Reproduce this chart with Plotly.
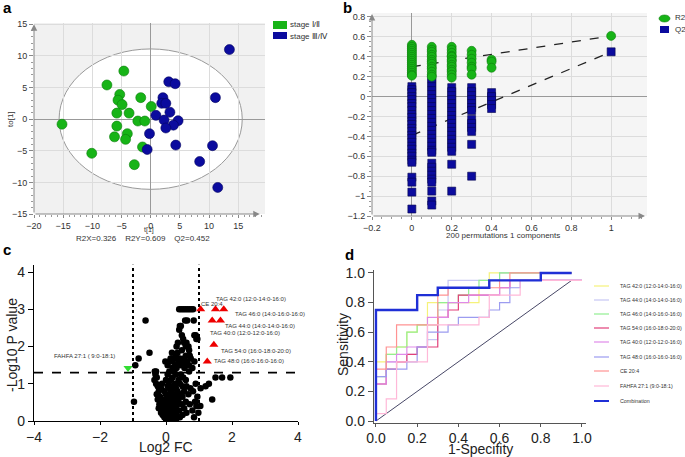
import plotly.graph_objects as go

W, H = 685, 457
FONT = "Arial, Liberation Sans, sans-serif"

# ---------- panel a : OPLS-DA score plot ----------
a_early_t1 = [-15.2, -4.6, -7.5, -5.3, -5.6, -4.9, -1.7, 0.1, -5.8, -3.7, -2.2, -1.0,
              -5.8, -4.0, -6.2, -4.3, -1.4, -10.1, -2.8]
a_early_to = [-0.8, 7.6, 5.4, 3.9, 3.0, 2.3, 3.4, 2.0, 0.95, 0.95, -0.3, -0.3,
              -1.1, -2.3, -2.8, -3.2, -4.4, -5.4, -7.2]
a_late_t1 = [13.5, 3.1, 4.2, 2.1, 11.1, 1.9, 2.6, 3.3, 0.9, 2.3, 4.7, 3.9, 2.6, -0.2,
             4.3, 10.6, -0.6, 8.4, 11.5]
a_late_to = [11.0, 5.9, 5.6, 3.4, 3.4, 2.5, 2.5, 1.1, 0.6, -0.15, -0.25, -0.95, -1.4,
             -2.3, -4.1, -4.2, -4.8, -6.7, -10.8]
a_ellipse = (15.7, 11.1)   # Hotelling T2 radii (t1, to)

# ---------- panel b : permutation test ----------
b_r2_x = [0] * 17 + [0.1] * 13 + [0.2] * 13 + [0.3] * 7 + [0.4] * 3 + [1]
b_r2_y = [0.52, 0.5, 0.48, 0.46, 0.44, 0.42, 0.4, 0.38, 0.36, 0.34, 0.32, 0.3, 0.28, 0.26, 0.24, 0.22, 0.21,
          0.5, 0.47, 0.45, 0.42, 0.4, 0.37, 0.35, 0.33, 0.3, 0.28, 0.25, 0.22, 0.2,
          0.5, 0.47, 0.44, 0.41, 0.4, 0.37, 0.35, 0.32, 0.3, 0.27, 0.25, 0.22, 0.19,
          0.46, 0.42, 0.38, 0.34, 0.3, 0.28, 0.22,
          0.37, 0.35, 0.29,
          0.61]
b_q2_x = [0] * 27 + [0.1] * 29 + [0.2] * 19 + [0.3] * 13 + [0.4] * 5 + [1]
b_q2_y = [0.1, 0.07, 0.04, 0.0, -0.03, -0.07, -0.1, -0.14, -0.18, -0.21, -0.25, -0.28, -0.32, -0.35,
          -0.39, -0.42, -0.46, -0.5, -0.53, -0.57, -0.6, -0.64, -0.66, -0.81, -0.86, -0.96, -1.13,
          0.18, 0.14, 0.1, 0.06, 0.02, -0.02, -0.06, -0.1, -0.14, -0.18, -0.22, -0.26, -0.3, -0.34,
          -0.38, -0.42, -0.46, -0.5, -0.54, -0.56, -0.67, -0.71, -0.75, -0.79, -0.83, -0.86, -0.95,
          -1.05, -1.09,
          0.09, 0.05, 0.01, -0.03, -0.07, -0.11, -0.15, -0.19, -0.23, -0.27, -0.31, -0.35, -0.39,
          -0.43, -0.47, -0.51, -0.55, -0.68, -0.95,
          0.09, 0.05, 0.01, -0.03, -0.07, -0.11, -0.14, -0.23, -0.27, -0.31, -0.35, -0.48, -0.8,
          0.04, 0.0, -0.04, -0.08, -0.12,
          0.45]
b_r2_line = ([0, 1], [0.3, 0.61])
b_q2_line = ([0, 1], [-0.39, 0.45])

# ---------- panel c : volcano ----------
c_fc = [0.40, 0.46, 0.52, 0.58, 0.64, 0.70, 0.76, 0.82,
        -0.62, 0.58, 0.64, 0.84, 0.42, 0.45, 0.40, 0.48, 0.86, 0.90, 0.52, 0.92, 0.95,
        0.36, 0.55, 0.62, 0.32, 0.60, 0.68, 0.48, 0.70, -0.50, 0.18, 0.35, 0.30, 0.60, 0.72,
        -0.83, 0.14, 0.25, 0.42, 0.55, 0.75, -0.02, 0.10, 0.20, 0.38, 0.50, 0.64, 0.86,
        -0.93, 0.05, 0.28, 0.45, 0.62, 0.70, 0.20, 0.32, 0.56, 0.80,
        -0.34, -0.30, 0.10, 0.25, 0.70, -0.32, 0.05, 0.30, 0.45,
        -0.28, 0.20, 0.52, 1.50, 1.70, 1.95, -0.35, 0.00, 0.15, 0.38, 0.60,
        -0.30, -0.12, 0.08, 0.28, 0.42, 1.30, 0.90, -0.25, 0.05, 0.20, 0.50, 0.62, 1.20,
        -0.15, 0.10, 0.30, 0.74, 1.05, -0.22, -0.05, 0.15, 0.35, 0.55, 0.82,
        -0.28, 0.00, 0.12, 0.25, 0.42, 0.68, -0.18, 0.05, 0.18, 0.30, 0.50, 0.95,
        -0.25, -0.05, 0.10, 0.22, 0.38, 1.40, -0.97, -0.12, 0.02, 0.15, 0.28, 0.60, 0.88,
        -0.20, -0.08, 0.08, 0.20, 0.35, 0.48, 0.72, -0.15, 0.00, 0.12, 0.25, 1.04, 0.92,
        -0.22, -0.10, 0.05, 0.18, 0.30, 0.55, -0.05, 0.08, 0.22, 0.40, 0.80,
        -0.15, 0.00, 0.12, 0.28, 0.62, 0.98, -0.10, 0.05, 0.18, 0.32, 0.50,
        -0.05, 0.08, 0.20, 0.42, 0.85, 0.00, 0.12, 0.25, 0.05, 0.15, 0.30]
c_logp = [3.0] * 8 + \
         [2.7, 2.7, 2.7, 2.7, 2.55, 2.55, 2.45, 2.3, 2.3, 2.3, 2.2, 2.2, 2.2,
          2.1, 2.1, 2.1, 2.0, 2.0, 2.0, 1.9, 1.9, 1.83, 1.83, 1.83, 1.75, 1.75, 1.75,
          1.68, 1.68, 1.68, 1.68, 1.68, 1.68, 1.6, 1.6, 1.6, 1.6, 1.6, 1.6, 1.6,
          1.5, 1.5, 1.5, 1.5, 1.5, 1.5, 1.42, 1.42, 1.42, 1.42,
          1.33, 1.33, 1.33, 1.33, 1.33, 1.25, 1.25, 1.25, 1.25,
          1.17, 1.17, 1.17, 1.17, 1.17, 1.17, 1.1, 1.1, 1.1, 1.1, 1.1,
          1.0, 1.0, 1.0, 1.0, 1.0, 1.0, 1.0, 0.93, 0.93, 0.93, 0.93, 0.93, 0.93,
          0.88, 0.88, 0.88, 0.88, 0.88, 0.8, 0.8, 0.8, 0.8, 0.8, 0.8,
          0.72, 0.72, 0.72, 0.72, 0.72, 0.72, 0.65, 0.65, 0.65, 0.65, 0.65, 0.65,
          0.58, 0.58, 0.58, 0.58, 0.58, 0.58, 0.52, 0.52, 0.52, 0.52, 0.52, 0.52, 0.52,
          0.45, 0.45, 0.45, 0.45, 0.45, 0.45, 0.45, 0.4, 0.4, 0.4, 0.4, 0.4, 0.4,
          0.34, 0.34, 0.34, 0.34, 0.34, 0.34, 0.28, 0.28, 0.28, 0.28, 0.28,
          0.22, 0.22, 0.22, 0.22, 0.22, 0.22, 0.16, 0.16, 0.16, 0.16, 0.16,
          0.1, 0.1, 0.1, 0.1, 0.1, 0.05, 0.05, 0.05, 0.02, 0.02, 0.02]
c_up_names = ["TAG 42:0 (12:0-14:0-16:0)", "CE 20:4", "TAG 46:0 (14:0-16:0-16:0)",
              "TAG 44:0 (14:0-14:0-16:0)", "TAG 40:0 (12:0-12:0-16:0)",
              "TAG 54:0 (16:0-18:0-20:0)", "TAG 48:0 (16:0-16:0-16:0)"]
c_up_fc = [1.5, 1.05, 1.75, 1.65, 1.4, 1.45, 1.25]
c_up_logp = [3.0, 3.0, 3.0, 2.7, 2.7, 2.05, 1.6]
c_down_names = ["FAHFA 27:1 ( 9:0-18:1)"]
c_down_fc = [-1.15]
c_down_logp = [1.42]
fc_cut = 1.0
p_cut = 1.3

# ---------- panel d : ROC curves ----------
roc_names = ["TAG 42:0 (12:0-14:0-16:0)", "TAG 44:0 (14:0-14:0-16:0)", "TAG 46:0 (14:0-16:0-16:0)",
             "TAG 54:0 (16:0-18:0-20:0)", "TAG 40:0 (12:0-12:0-16:0)", "TAG 48:0 (16:0-16:0-16:0)",
             "CE 20:4", "FAHFA 27:1 (9:0-18:1)", "Combination"]
roc_colors = ["#f6f27a", "#c6c6f4", "#92ee92", "#e2407a", "#df8ae9", "#9c9cf0",
              "#ff9393", "#ffb8d8", "#1f2fd6"]
roc_fpr = [
    [0, 0, 0.05, 0.05, 0.1, 0.1, 0.15, 0.15, 0.2, 0.2, 0.25, 0.25, 0.5, 0.5, 0.55, 0.55, 0.95],
    [0, 0, 0.05, 0.05, 0.15, 0.15, 0.2, 0.2, 0.25, 0.25, 0.3, 0.3, 0.35, 0.35, 0.6, 0.6, 0.95],
    [0, 0, 0.05, 0.05, 0.1, 0.1, 0.15, 0.15, 0.2, 0.2, 0.3, 0.3, 0.4, 0.4, 0.45, 0.45, 0.5, 0.5,
     0.6, 0.6, 0.95],
    [0, 0, 0.05, 0.05, 0.1, 0.1, 0.15, 0.15, 0.2, 0.2, 0.3, 0.3, 0.35, 0.35, 0.4, 0.4, 0.6, 0.6,
     0.65, 0.65, 1.0],
    [0, 0, 0.05, 0.05, 0.1, 0.1, 0.15, 0.15, 0.25, 0.25, 0.35, 0.35, 0.45, 0.45, 0.6, 0.6, 0.65,
     0.65, 1.0],
    [0, 0, 0.05, 0.05, 0.15, 0.15, 0.2, 0.2, 0.25, 0.25, 0.35, 0.35, 0.4, 0.4, 0.55, 0.55, 0.6,
     0.6, 0.65, 0.65, 0.7, 0.7, 1.0],
    [0, 0, 0.05, 0.05, 0.1, 0.1, 0.3, 0.3, 0.35, 0.35, 0.6, 0.6, 0.65, 0.65, 0.95],
    [0, 0, 0.05, 0.05, 0.1, 0.1, 0.25, 0.25, 0.5, 0.5, 0.55, 0.55, 0.7, 0.7, 1.0],
    [0, 0, 0.2, 0.2, 0.3, 0.3, 0.55, 0.55, 0.8, 0.8, 0.95],
]
roc_tpr = [
    [0, 0.4, 0.4, 0.45, 0.45, 0.5, 0.5, 0.6, 0.6, 0.65, 0.65, 0.8, 0.8, 0.9, 0.9, 1.0, 1.0],
    [0, 0.25, 0.25, 0.4, 0.4, 0.45, 0.45, 0.5, 0.5, 0.55, 0.55, 0.75, 0.75, 0.95, 0.95, 1.0, 1.0],
    [0, 0.3, 0.3, 0.45, 0.45, 0.5, 0.5, 0.6, 0.6, 0.65, 0.65, 0.8, 0.8, 0.85, 0.85, 0.9, 0.9, 0.95,
     0.95, 1.0, 1.0],
    [0, 0.25, 0.25, 0.35, 0.35, 0.4, 0.4, 0.45, 0.45, 0.5, 0.5, 0.7, 0.7, 0.75, 0.75, 0.85, 0.85,
     0.9, 0.9, 0.95, 0.95],
    [0, 0.25, 0.25, 0.4, 0.4, 0.45, 0.45, 0.5, 0.5, 0.7, 0.7, 0.8, 0.8, 0.85, 0.85, 0.9, 0.9,
     0.95, 0.95],
    [0, 0.3, 0.3, 0.35, 0.35, 0.4, 0.4, 0.5, 0.5, 0.6, 0.6, 0.65, 0.65, 0.7, 0.7, 0.75, 0.75, 0.8,
     0.8, 0.9, 0.9, 0.95, 0.95],
    [0, 0.35, 0.35, 0.5, 0.5, 0.65, 0.65, 0.85, 0.85, 0.9, 0.9, 0.95, 0.95, 1.0, 1.0],
    [0, 0.05, 0.05, 0.15, 0.15, 0.4, 0.4, 0.65, 0.65, 0.7, 0.7, 0.85, 0.85, 0.95, 0.95],
    [0, 0.75, 0.75, 0.85, 0.85, 0.9, 0.9, 0.95, 0.95, 1.0, 1.0],
]
roc_ref = ([0, 0.95], [0, 0.95])


def px(x):
    return x / W


def py(y):
    return 1 - y / H


GREEN = "#17b417"
BLUE = "#0b0b9e"

fig = go.Figure()

# panel a
fig.add_trace(go.Scatter(x=a_early_t1, y=a_early_to, mode="markers", xaxis="x", yaxis="y",
                         marker=dict(size=10, color=GREEN, line=dict(color="#0c7d0c", width=0.6))))
fig.add_trace(go.Scatter(x=a_late_t1, y=a_late_to, mode="markers", xaxis="x", yaxis="y",
                         marker=dict(size=10, color=BLUE, line=dict(color="#050560", width=0.6))))

# panel b
fig.add_trace(go.Scatter(x=b_r2_line[0], y=b_r2_line[1], mode="lines", xaxis="x2", yaxis="y2",
                         line=dict(color="#222", width=1.3, dash="dash")))
fig.add_trace(go.Scatter(x=b_q2_line[0], y=b_q2_line[1], mode="lines", xaxis="x2", yaxis="y2",
                         line=dict(color="#222", width=1.3, dash="dash")))
fig.add_trace(go.Scatter(x=b_q2_x, y=b_q2_y, mode="markers", xaxis="x2", yaxis="y2",
                         marker=dict(symbol="square", size=8, color=BLUE,
                                     line=dict(color="#06064d", width=0.6))))
fig.add_trace(go.Scatter(x=b_r2_x, y=b_r2_y, mode="markers", xaxis="x2", yaxis="y2",
                         marker=dict(size=9, color=GREEN, line=dict(color="#0c7d0c", width=0.6))))

# panel c
fig.add_trace(go.Scatter(x=[fc_cut, fc_cut], y=[0, 4.2], mode="lines", xaxis="x3", yaxis="y3",
                         line=dict(color="black", width=2, dash="dot")))
fig.add_trace(go.Scatter(x=[-fc_cut, -fc_cut], y=[0, 4.2], mode="lines", xaxis="x3", yaxis="y3",
                         line=dict(color="black", width=2, dash="dot")))
fig.add_trace(go.Scatter(x=[-4, 4], y=[p_cut, p_cut], mode="lines", xaxis="x3", yaxis="y3",
                         line=dict(color="black", width=1.6, dash="dash")))
fig.add_trace(go.Scatter(x=c_fc, y=c_logp, mode="markers", xaxis="x3", yaxis="y3",
                         marker=dict(size=6.5, color="black")))
fig.add_trace(go.Scatter(x=c_up_fc, y=c_up_logp, mode="markers", xaxis="x3", yaxis="y3",
                         marker=dict(symbol="triangle-up", size=8, color="#ee0000")))
fig.add_trace(go.Scatter(x=c_down_fc, y=c_down_logp, mode="markers", xaxis="x3", yaxis="y3",
                         marker=dict(symbol="triangle-down", size=8, color="#33dd33")))

# panel d
fig.add_trace(go.Scatter(x=roc_ref[0], y=roc_ref[1], mode="lines", xaxis="x4", yaxis="y4",
                         line=dict(color="#474766", width=1)))
for i, name in enumerate(roc_names):
    fig.add_trace(go.Scatter(x=roc_fpr[i], y=roc_tpr[i], mode="lines", xaxis="x4", yaxis="y4",
                             line=dict(color=roc_colors[i], width=2.4 if name == "Combination" else 1.2)))

tick_small = dict(family=FONT, size=9, color="#333")
tick_big = dict(family=FONT, size=14, color="#222")

fig.update_layout(
    template="none",
    width=W, height=H, margin=dict(l=0, r=0, t=0, b=0, autoexpand=False),
    paper_bgcolor="white", plot_bgcolor="rgba(0,0,0,0)", showlegend=False,
    font=dict(family=FONT),
    xaxis=dict(domain=[px(34), px(265)], range=[-20, 19.6], anchor="y", dtick=5, tick0=0,
               automargin=False,
               showgrid=True, gridcolor="#dcdcdc", zeroline=True, zerolinecolor="#999",
               zerolinewidth=1, showline=False, ticks="outside", ticklen=3, tickcolor="#888",
               tickfont=tick_small, minor=dict(ticks="outside", ticklen=2, dtick=1, tickcolor="#999")),
    yaxis=dict(domain=[py(214), py(23)], range=[-15, 15.2], anchor="x", dtick=5, tick0=0,
               automargin=False,
               showgrid=True, gridcolor="#dcdcdc", zeroline=True, zerolinecolor="#999",
               zerolinewidth=1, showline=False, ticks="outside", ticklen=4, tickcolor="#888",
               tickfont=tick_small, minor=dict(ticks="outside", ticklen=2, dtick=1, tickcolor="#999")),
    xaxis2=dict(domain=[px(372), px(647)], range=[-0.2, 1.18], anchor="y2", dtick=0.2, tick0=0,
                automargin=False,
                showgrid=True, gridcolor="#dcdcdc", zeroline=True, zerolinecolor="#999",
                showline=False, ticks="outside", ticklen=3, tickcolor="#888", tickfont=tick_small,
                minor=dict(ticks="outside", ticklen=2, dtick=0.05, tickcolor="#999")),
    yaxis2=dict(domain=[py(216), py(13)], range=[-1.2, 0.84], anchor="x2", dtick=0.2, tick0=0,
                automargin=False,
                showgrid=True, gridcolor="#dcdcdc", zeroline=True, zerolinecolor="#999",
                showline=False, ticks="outside", ticklen=4, tickcolor="#888", tickfont=tick_small,
                minor=dict(ticks="outside", ticklen=2, dtick=0.05, tickcolor="#999")),
    xaxis3=dict(domain=[px(34), px(298)], range=[-4, 4], anchor="y3", dtick=2, showgrid=False,
                automargin=False,
                zeroline=False, showline=True, linecolor="black", linewidth=1.2, ticks="outside",
                ticklen=3, tickcolor="black", tickfont=tick_big),
    yaxis3=dict(domain=[py(421), py(264.6)], range=[0, 4.2], anchor="x3", dtick=1, showgrid=False,
                automargin=False,
                zeroline=False, showline=True, linecolor="black", linewidth=1.2, ticks="outside",
                ticklen=5, tickcolor="black", tickfont=tick_big),
    xaxis4=dict(domain=[px(373.9), px(586.1)], range=[-0.01, 1.02], anchor="y4",
                tickvals=[0, 0.2, 0.4, 0.6, 0.8, 1.0], automargin=False,
                tickformat=".1f", showgrid=False, zeroline=False, showline=True, linecolor="#555",
                linewidth=1.2, ticks="outside", ticklen=3, tickcolor="#555", tickfont=tick_big),
    yaxis4=dict(domain=[py(422.5), py(270)], range=[-0.01, 1.02], anchor="x4",
                tickvals=[0, 0.2, 0.4, 0.6, 0.8, 1.0], automargin=False,
                tickformat=".1f", showgrid=False, zeroline=False, showline=True, linecolor="#555",
                linewidth=1.2, ticks="outside", ticklen=5, tickcolor="#555", tickfont=tick_big),
)

shapes = [
    dict(type="rect", xref="x", yref="y", x0=-20, x1=19.6, y0=-15, y1=15.2, layer="below",
         fillcolor="#f1f1f1", line=dict(width=0)),
    dict(type="circle", xref="x", yref="y", x0=-a_ellipse[0], x1=a_ellipse[0], y0=-a_ellipse[1],
         y1=a_ellipse[1], layer="below", fillcolor="white", line=dict(color="#9a9a9a", width=1)),
    dict(type="rect", xref="x2", yref="y2", x0=-0.2, x1=1.18, y0=-1.2, y1=0.84, layer="below",
         fillcolor="#f5f5f5", line=dict(width=0)),
    # legend swatches a
    dict(type="rect", xref="paper", yref="paper", x0=px(273), x1=px(287), y0=py(29), y1=py(21),
         fillcolor=GREEN, line=dict(width=0)),
    dict(type="rect", xref="paper", yref="paper", x0=px(273), x1=px(287), y0=py(39), y1=py(32),
         fillcolor=BLUE, line=dict(width=0)),
    # legend swatches b
    dict(type="circle", xref="paper", yref="paper", x0=px(659), x1=px(670), y0=py(22), y1=py(15),
         fillcolor=GREEN, line=dict(color="#0c7d0c", width=0.6)),
    dict(type="rect", xref="paper", yref="paper", x0=px(660), x1=px(669), y0=py(33), y1=py(26),
         fillcolor=BLUE, line=dict(width=0)),
]
legend_d_y = [286, 300, 314, 328, 342, 357, 371, 386, 401]
for name, col, yy in zip(roc_names, roc_colors, legend_d_y):
    shapes.append(dict(type="line", xref="paper", yref="paper", x0=px(594), x1=px(609),
                       y0=py(yy), y1=py(yy),
                       line=dict(color=col, width=2 if name == "Combination" else 1.2)))

annotations = []


def text(x, y, s, size=8, xanchor="center", color="#333", bold=False, angle=0):
    annotations.append(dict(xref="paper", yref="paper", x=px(x), y=py(y), text=f"<b>{s}</b>" if bold else s,
                            showarrow=False, xanchor=xanchor, yanchor="middle", textangle=angle,
                            font=dict(family=FONT, size=size, color=color)))


def arrow(xr, yr, x0, y0, x1, y1):
    annotations.append(dict(xref=xr, yref=yr, axref=xr, ayref=yr, x=x1, y=y1, ax=x0, ay=y0,
                            text="", showarrow=True, arrowhead=2, arrowsize=1.3, arrowwidth=1,
                            arrowcolor="#888"))


arrow("x", "y", -20, -15, -20, 15.0)
arrow("x", "y", -20, -15, 18.7, -15)
arrow("x2", "y2", -0.2, -1.2, -0.2, 0.83)
arrow("x2", "y2", -0.2, -1.2, 1.17, -1.2)

text(7, 8, "a", size=15, color="black", bold=True)
text(348, 8, "b", size=15, color="black", bold=True)
text(7, 250, "c", size=15, color="black", bold=True)
text(349, 254, "d", size=15, color="black", bold=True)

text(288, 25, "stage Ⅰ/Ⅱ", xanchor="left")
text(288, 36, "stage Ⅲ/Ⅳ", xanchor="left")
text(10, 119, "to[1]", angle=-90)
text(149, 230, "t[1]", size=7)
text(143, 238.5, "R2X=0.326&nbsp;&nbsp;&nbsp;&nbsp;R2Y=0.609&nbsp;&nbsp;&nbsp;&nbsp;Q2=0.452")

text(673, 18, "R2", xanchor="left")
text(673, 29, "Q2", xanchor="left")
text(503, 235, "200 permutations 1 components")

text(12, 345, "-Log10 P value", size=14, color="#222", angle=-90)
text(166, 447, "Log2 FC", size=14, color="#222")
text(343, 345, "Sensitivity", size=14, color="#222", angle=-90)
text(480, 449, "1-Specifity", size=14, color="#222")

label_pos = [(214, 299), (199, 304), (233, 314), (223, 326), (208, 333), (219, 351), (212, 361)]
for name, (lx, ly) in zip(c_up_names, label_pos):
    text(lx, ly, name, size=6, xanchor="left")
text(52, 356, c_down_names[0], size=6, xanchor="left")

for name, yy in zip(roc_names, legend_d_y):
    text(618, yy, name, size=5.3, xanchor="left")

fig.update_layout(shapes=shapes, annotations=annotations)
fig.write_html("out.html", config={"displayModeBar": False},
               post_script="document.body.style.margin = '0';")
